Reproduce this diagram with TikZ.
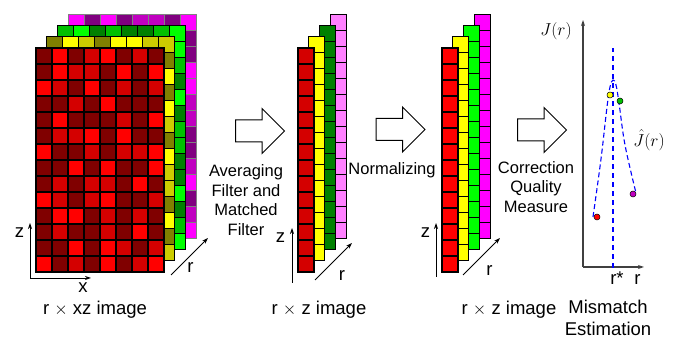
\documentclass[tikz,border=0pt]{standalone}
\usepackage{fontspec}
\setmainfont{Liberation Sans}
\usepackage{tikz}
\usetikzlibrary{shapes.arrows, arrows.meta, positioning}

% shades of the r x xz stack
\definecolor{redM}{HTML}{800000}
\definecolor{redD}{HTML}{D40000}
\definecolor{redR}{HTML}{FF0000}
\definecolor{yelO}{HTML}{808000}
\definecolor{yelC}{HTML}{CCCC00}
\definecolor{yelY}{HTML}{FFFF00}
\definecolor{grnD}{HTML}{008000}
\definecolor{grnM}{HTML}{00C000}
\definecolor{grnL}{HTML}{00FF00}
\definecolor{magD}{HTML}{800080}
\definecolor{magM}{HTML}{C000C0}
\definecolor{magL}{HTML}{FF00FF}
% filtered and normalized columns
\definecolor{redA}{HTML}{D40000}
\definecolor{greenA}{HTML}{008000}
\definecolor{pinkA}{HTML}{FF80FF}
\definecolor{redB}{HTML}{FF0000}
\definecolor{greenB}{HTML}{00FF00}
\definecolor{pinkB}{HTML}{FF00FF}
\definecolor{curveblue}{HTML}{0000FF}

% back layer: top row and right column are the only visible cells
% #1 depth, #2 colour prefix, #3 top row, #4 right column
\newcommand{\backlayer}[4]{%
  \begin{scope}[shift={(#1*10.7,#1*11.2)}]
    \foreach \c [count=\i] in {#3}
      \draw[cell, fill=#2\c] ({36+(\i-1)*16}, 275) rectangle ++(16,16);
    \foreach \c [count=\j] in {#4}
      \draw[cell, fill=#2\c] (148, {275-\j*16}) rectangle ++(16,16);
  \end{scope}}

\begin{document}
\begin{tikzpicture}[
    x=1pt, y=1pt,
    >={Stealth[length=6pt,width=4pt]},
    cell/.style={draw=black, line width=1.1pt},
    axis/.style={line width=0.8pt},
    plotaxis/.style={line width=1.1pt, draw=black!75},
    jcurve/.style={draw=curveblue, line width=1.1pt, dash pattern=on 5pt off 3pt},
    bigarrow/.style={single arrow, draw, line width=1pt, fill=white, inner sep=0pt,
        inner ysep=10.5pt, minimum height=49pt, single arrow head extend=11.5pt,
        single arrow tip angle=90},
    lbl/.style={font=\fontsize{18.5}{22.5}\selectfont, inner sep=0pt, align=center},
    steplbl/.style={font=\fontsize{16.5}{19.5}\selectfont, inner sep=0pt, align=center},
    dot/.style={circle, draw=black, line width=0.5pt, inner sep=0pt, minimum size=6pt}
  ]
  \useasboundingbox (0,0) rectangle (678,339);

  % --- r x xz image ---
  \begin{scope}[cell/.append style={draw=black!50}]
    \backlayer{3}{mag}{L,D,L,D,M,M,D,L}{D,D,L,L,M,M,D,D,M,L,D,M,L}
  \end{scope}
  \backlayer{2}{grn}{M,L,D,M,D,D,M,L}{L,M,D,L,D,M,M,D,D,L,D,M,L}
  \backlayer{1}{yel}{O,Y,C,O,Y,Y,C,C}{O,Y,O,Y,C,O,Y,C,C,O,Y,O,C}
  \foreach \row [count=\j] in {{M,R,M,D,R,M,D,M},{M,R,D,D,M,R,M,R},
      {R,D,M,R,M,D,M,D},{M,M,D,M,R,M,M,M},{M,R,M,M,M,D,M,R},
      {M,D,D,R,M,R,M,M},{R,M,M,D,M,D,D,R},{M,M,R,M,R,M,M,R},
      {M,D,M,D,D,M,R,M},{R,D,M,D,R,M,M,D},{M,R,R,M,D,M,D,M},
      {M,D,M,M,D,M,R,M},{M,M,R,M,R,D,M,D},{R,M,D,M,R,M,D,R}}
    \foreach \c [count=\i] in \row
      \draw[cell, fill=red\c] ({36+(\i-1)*16}, {291-\j*16}) rectangle ++(16,16);

  \coordinate (o1) at (30,61);
  \draw[axis,->] (o1) -- ++(0,55);
  \draw[axis,->] (o1) -- ++(61,0);
  \coordinate (r1) at (171,64);
  \draw[axis,->] (r1) -- ++(37,37);
  \node[lbl] (z1) at (19.5,106) {z};
  \node[lbl] (x1) at (83,51) {x};
  \node[lbl] (rr1) at (190.5,71) {r};
  \node[lbl] (cap1) at (95,29) {r $\times$ xz image};

  % --- Averaging + matched filter ---
  \node[bigarrow] (arr1) at (254.5,208) {};
  \node[steplbl] (step1) at (246,139) {Averaging\\Filter and\\Matched\\Filter};

  % --- r x z image after filtering ---
  \foreach \k/\fc in {3/pinkA, 2/greenA, 1/yelY, 0/redA}
    \foreach \j in {0,...,13}
      \draw[cell, fill=\fc] ({298+\k*10.7}, {67+\k*11.2+\j*16}) rectangle ++(16,16);
  \coordinate (o2) at (292,56);
  \draw[axis,->] (o2) -- ++(0,55);
  \coordinate (r2) at (315,59);
  \draw[axis,->] (r2) -- ++(37,37);
  \node[lbl] (z2) at (280.5,101) {z};
  \node[lbl] (rr2) at (342,63.5) {r};
  \node[lbl] (cap2) at (319,29) {r $\times$ z image};

  % --- Normalizing ---
  \node[bigarrow] (arr2) at (395,209.5) {};
  \node[steplbl] (step2) at (392,169) {Normalizing};

  % --- r x z image after normalizing ---
  \foreach \k/\fc in {3/pinkB, 2/greenB, 1/yelY, 0/redB}
    \foreach \j in {0,...,13}
      \draw[cell, fill=\fc] ({442+\k*10.7}, {67+\k*11.2+\j*16}) rectangle ++(16,16);
  \coordinate (o3) at (436,62);
  \draw[axis,->] (o3) -- ++(0,54);
  \coordinate (r3) at (463,64);
  \draw[axis,->] (r3) -- ++(37,37);
  \node[lbl] (z3) at (425.5,106.5) {z};
  \node[lbl] (rr3) at (489.5,68) {r};
  \node[lbl] (cap3) at (509,29) {r $\times$ z image};

  % --- Correction quality measure ---
  \node[bigarrow] (arr3) at (536.5,209) {};
  \node[steplbl] (step3) at (536,152) {Correction\\Quality\\Measure};

  % --- J(r) and its estimate ---
  \coordinate (org) at (583,72);
  \coordinate (ytop) at (583,319);
  \coordinate (xend) at (644,72);
  \draw[plotaxis,->] (org) -- (ytop);
  \draw[plotaxis,->] (org) -- (xend);
  \coordinate (rs) at (613,71);
  \coordinate (rstop) at (613,291);
  \draw[jcurve, dash pattern=on 5pt off 4pt] (rs) -- (rstop);
  \draw[jcurve] plot[smooth, tension=0.6] coordinates
    {(593,122) (601,180) (607,232) (610,252) (613,259) (616,254) (619,236) (625,194) (636,146)};
  \node[dot, fill=redR] (p1) at (597,122) {};
  \node[dot, fill=yelY] (p2) at (610,244) {};
  \node[dot, fill=grnM] (p3) at (620,238) {};
  \node[dot, fill=magM] (p4) at (633,145) {};

  \node[lbl] (jlab) at (556,307.5) {$J(r)$};
  \node[lbl] (jhat) at (649,199) {$\hat{J}(r)$};
  \node[lbl, anchor=base] (rstar) at (617,54) {r*};
  \node[lbl, anchor=base] (rax) at (637.5,54) {r};
  \node[lbl] (cap4) at (608,21) {Mismatch\\Estimation};
\end{tikzpicture}
\end{document}
